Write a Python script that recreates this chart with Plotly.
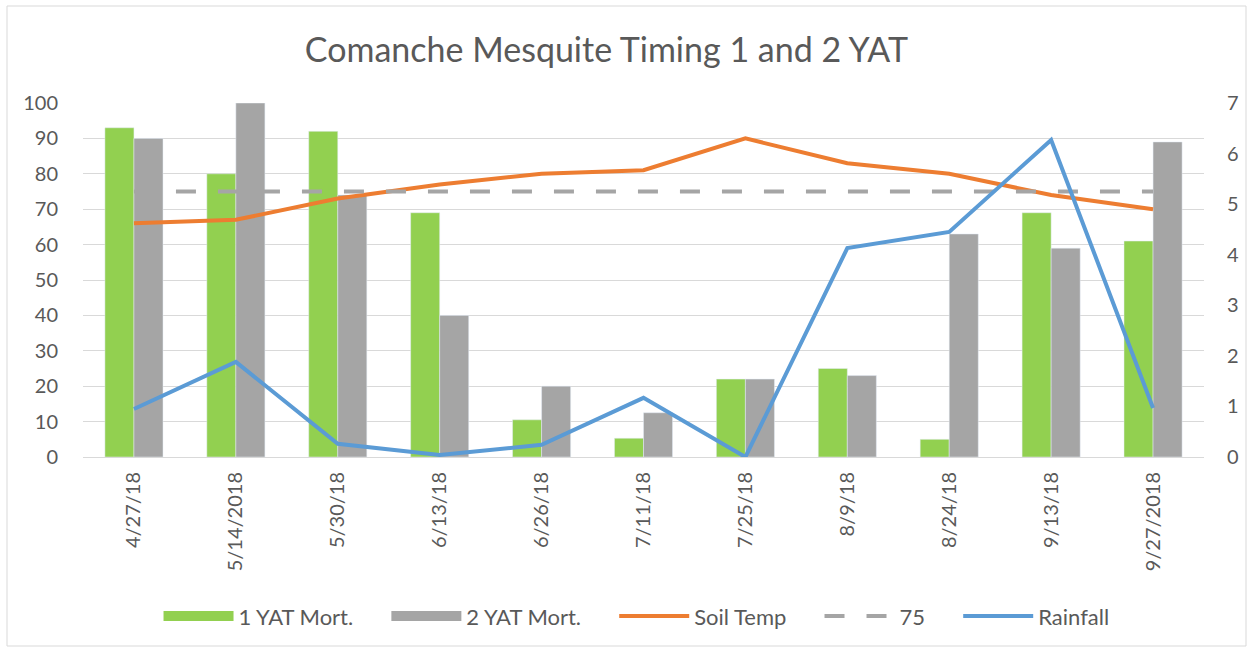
import plotly.graph_objects as go

dates = ["4/27/18", "5/14/2018", "5/30/18", "6/13/18", "6/26/18", "7/11/18",
         "7/25/18", "8/9/18", "8/24/18", "9/13/18", "9/27/2018"]
yat1 = [93, 80, 92, 69, 10.5, 5.3, 22, 25, 5, 69, 61]
yat2 = [90, 100, 74, 40, 20, 12.5, 22, 23, 63, 59, 89]
soil_temp = [66, 67, 73, 77, 80, 81, 90, 83, 80, 74, 70]
ref75 = [75] * len(dates)
rainfall = [0.95, 1.88, 0.26, 0.04, 0.24, 1.17, 0.0, 4.13, 4.45, 6.27, 0.97]

FONT = "Lato, 'Open Sans', sans-serif"
TXT = "#595959"
GREEN, GREY, ORANGE, BLUE = "#92d050", "#a5a5a5", "#ed7d31", "#5b9bd5"
PAD = "\u00a0" * 5

fig = go.Figure()
# legend-only swatches for bars (wide rectangles like the original)
fig.add_trace(go.Scatter(x=[None], y=[None], name="1 YAT Mort." + PAD, mode="lines",
                         line=dict(color=GREEN, width=14), legendgroup="a"))
fig.add_trace(go.Scatter(x=[None], y=[None], name="2 YAT Mort." + PAD, mode="lines",
                         line=dict(color=GREY, width=14), legendgroup="b"))
fig.add_trace(go.Bar(x=dates, y=yat1, name="1 YAT Mort.", marker_color=GREEN,
                     showlegend=False, legendgroup="a"))
fig.add_trace(go.Bar(x=dates, y=yat2, name="2 YAT Mort.", marker_color=GREY,
                     showlegend=False, legendgroup="b"))
fig.add_trace(go.Scatter(x=dates, y=soil_temp, name="Soil Temp" + PAD, mode="lines",
                         line=dict(color=ORANGE, width=4)))
fig.add_trace(go.Scatter(x=dates, y=ref75, name="75" + PAD, mode="lines",
                         line=dict(color=GREY, width=4, dash="20px,22px")))
fig.add_trace(go.Scatter(x=dates, y=rainfall, name="Rainfall", mode="lines",
                         line=dict(color=BLUE, width=4), yaxis="y2"))

fig.update_layout(
    width=1253, height=652,
    margin=dict(l=83, r=49, t=103, b=195, autoexpand=False),
    paper_bgcolor="white", plot_bgcolor="white",
    font=dict(family=FONT, color=TXT, size=20),
    title=dict(text="Comanche Mesquite Timing 1 and 2 YAT", x=0.484, xanchor="center",
               y=0.923, yanchor="middle", font=dict(size=34, color=TXT, family=FONT)),
    barmode="group", bargap=0.43, bargroupgap=0,
    xaxis=dict(type="category", tickangle=-90, showgrid=False, showline=True,
               linecolor="#d9d9d9", ticks="", ticklabelstandoff=6, automargin=False,
               tickfont=dict(size=20, color=TXT)),
    yaxis=dict(range=[0, 100], dtick=10, showgrid=True, gridcolor="#d9d9d9", gridwidth=1,
               zeroline=False, showline=False, ticks="", ticklabelstandoff=24,
               automargin=False, tickfont=dict(size=20, color=TXT)),
    yaxis2=dict(range=[0, 7], dtick=1, overlaying="y", side="right", showgrid=False,
                zeroline=False, showline=False, ticks="", ticklabelstandoff=22,
                automargin=False, tickfont=dict(size=20, color=TXT)),
    legend=dict(orientation="h", xref="container", yref="container",
                x=0.508, xanchor="center", y=0.055, yanchor="middle",
                font=dict(size=22, color=TXT, family=FONT), traceorder="normal",
                itemwidth=70),
    shapes=[dict(type="rect", xref="paper", yref="paper",
                 x0=(7 - 83) / 1121, x1=(1246 - 83) / 1121,
                 y0=(457 - 646) / 354, y1=(457 - 6) / 354,
                 line=dict(color="#d9d9d9", width=1), fillcolor="rgba(0,0,0,0)", layer="below")],
)

fig.write_html("out.html", config={"displayModeBar": False},
               post_script="document.body.style.margin='0';")
